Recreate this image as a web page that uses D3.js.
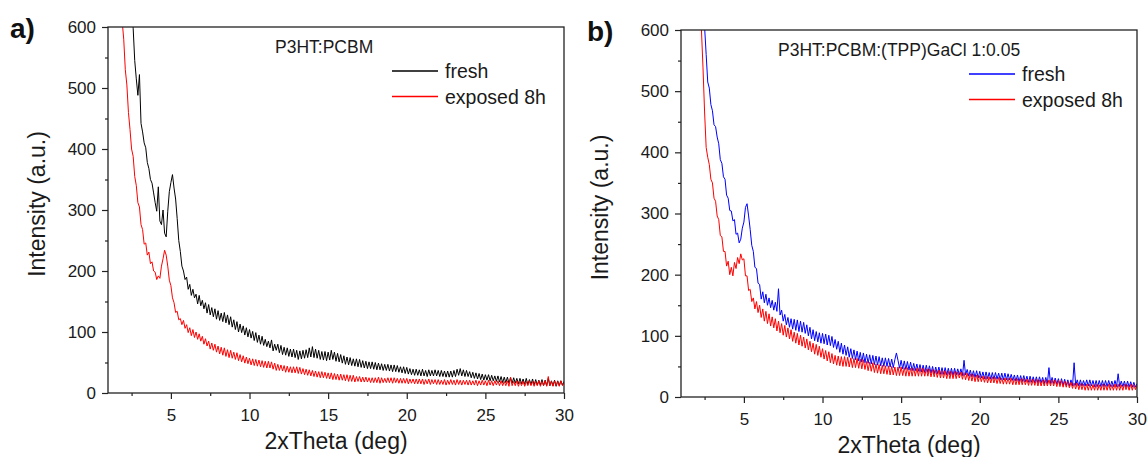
<!DOCTYPE HTML>
<html>
<head>
	<title>XRD P3HT:PCBM</title>
	<meta http-equiv="Content-Type" content="text/html; charset=utf-8">
	<script src="https://d3js.org/d3.v7.min.js"></script>
	<style type="text/css">
		body {
			margin: 0;
			background-color: #ffffff;
		}
		text {
			font-family: "Liberation Sans", Arial, sans-serif;
			fill: #1a1a1a;
		}
		.tick text {
			font-size: 17px;
		}
		.tick line {
			stroke: #222;
			stroke-width: 1.2;
		}
		.frame {
			fill: none;
			stroke: #222;
			stroke-width: 1.3;
		}
		.curve {
			fill: none;
			stroke-width: 1;
			stroke-linejoin: round;
		}
	</style>
</head>
<body>
	<div id="picture"></div>
	<script>
var width  = 1148;
var height = 457;

// sample grid: 2xTheta from 1.8 to 30 deg, 0.1 deg apart (283 points)
var theta = d3.range(0, 283).map(function(i) { return Math.round((1.8 + i * 0.1) * 10) / 10; });

var xTicks      = [5, 10, 15, 20, 25, 30];
var xMinorTicks = [2.5, 7.5, 12.5, 17.5, 22.5, 27.5];
var yTicks      = [0, 100, 200, 300, 400, 500, 600];
var yMinorTicks = [50, 150, 250, 350, 450, 550];

var legendNames = ["fresh", "exposed 8h"];

// a) P3HT:PCBM  (one row = 1 deg, starting 1.8, 2.8, 3.8 ...)
var freshA = [
	960, 890, 870, 830, 770, 735, 710, 640, 598, 545,
	515, 488, 522, 442, 428, 410, 402, 378, 368, 350,
	344, 328, 312, 298, 338, 282, 276, 300, 262, 256,
	298, 330, 345, 358, 336, 318, 286, 250, 232, 208,
	200, 186, 190, 170, 178, 160, 170, 156, 162, 146,
	160, 143, 152, 138, 148, 131, 145, 128, 140, 125,
	138, 121, 135, 119, 131, 117, 132, 115, 128, 112,
	125, 108, 120, 104, 117, 100, 113,  99, 110,  95,
	107,  92, 104,  90, 101,  86,  99,  83,  95,  80,
	 93,  78,  88,  76,  85,  74,  87,  69,  80,  70,
	 80,  66,  78,  63,  75,  62,  74,  60,  72,  59,
	 72,  58,  70,  55,  69,  56,  70,  57,  71,  58,
	 74,  59,  76,  58,  72,  57,  70,  55,  68,  54,
	 68,  53,  67,  54,  70,  55,  67,  52,  65,  51,
	 63,  49,  61,  47,  59,  46,  58,  45,  56,  44,
	 56,  43,  55,  42,  53,  41,  52,  40,  51,  40,
	 51,  39,  50,  38,  49,  38,  48,  37,  47,  37,
	 47,  36,  46,  35,  46,  35,  45,  34,  43,  33,
	 43,  32,  42,  31,  40,  30,  39,  29,  39,  29,
	 38,  28,  39,  28,  37,  27,  38,  28,  37,  28,
	 38,  28,  37,  27,  37,  27,  36,  26,  36,  26,
	 36,  26,  37,  27,  39,  29,  40,  28,  38,  27,
	 37,  27,  35,  25,  34,  24,  33,  23,  32,  22,
	 31,  21,  30,  21,  30,  20,  29,  20,  28,  19,
	 28,  18,  27,  17,  26,  17,  26,  16,  25,  16,
	 25,  16,  24,  15,  24,  15,  23,  14,  24,  14,
	 22,  14,  23,  13,  22,  13,  21,  13,  22,  12,
	 21,  12,  24,  12,  20,  12,  21,  11,  20,  12,
	 20,  13,  19
];
var exposedA = [
	665, 610, 580, 530, 505, 460, 432, 400, 388, 355,
	340, 312, 305, 276, 268, 244, 246, 226, 231, 212,
	215, 200, 198, 186, 192, 188, 208, 220, 234, 226,
	208, 185, 176, 156, 148, 132, 134, 120, 122, 112,
	119, 106, 112,  99, 107,  94, 104,  91, 100,  88,
	 97,  85,  93,  80,  89,  77,  85,  72,  82,  70,
	 80,  67,  77,  64,  75,  62,  74,  60,  71,  58,
	 70,  57,  67,  55,  66,  53,  63,  51,  61,  49,
	 59,  48,  57,  46,  56,  45,  55,  44,  54,  43,
	 53,  42,  52,  41,  52,  41,  51,  39,  49,  37,
	 47,  37,  46,  36,  45,  34,  44,  34,  43,  33,
	 43,  33,  43,  32,  42,  31,  40,  30,  39,  29,
	 38,  28,  37,  27,  36,  26,  35,  25,  35,  25,
	 34,  24,  33,  23,  33,  22,  32,  22,  31,  21,
	 31,  21,  30,  20,  30,  19,  29,  19,  29,  18,
	 27,  19,  27,  18,  26,  18,  26,  18,  25,  17,
	 25,  17,  25,  17,  26,  16,  25,  17,  24,  17,
	 25,  17,  25,  16,  25,  17,  24,  16,  24,  16,
	 24,  16,  24,  15,  23,  16,  23,  15,  23,  15,
	 23,  15,  23,  14,  22,  15,  23,  14,  22,  15,
	 22,  14,  22,  14,  21,  14,  22,  13,  21,  14,
	 22,  14,  21,  13,  22,  14,  21,  13,  21,  14,
	 21,  13,  21,  13,  20,  13,  21,  12,  20,  13,
	 21,  13,  20,  12,  21,  13,  20,  12,  20,  13,
	 20,  12,  20,  12,  19,  12,  20,  11,  26,  12,
	 19,  12,  20,  11,  19,  12,  19,  11,  19,  12,
	 20,  12,  19,  11,  19,  12,  20,  11,  19,  12,
	 20,  11,  27,  12,  19,  11,  20,  12,  19,  11,
	 20,  12,  18
];

// b) P3HT:PCBM:(TPP)GaCl 1:0.05
var freshB = [
	880, 820, 775, 720, 690, 650, 640, 605, 560, 515,
	505, 478, 468, 445, 442, 425, 414, 388, 382, 360,
	356, 330, 325, 305, 304, 288, 290, 266, 268, 252,
	258, 276, 286, 310, 316, 296, 274, 248, 238, 212,
	210, 186, 184, 160, 172, 154, 168, 150, 162, 146,
	158, 142, 155, 140, 177, 134, 142, 124, 135, 118,
	130, 114, 128, 111, 127, 109, 126, 107, 124, 106,
	122, 104, 118, 100, 114,  95, 110,  92, 107,  90,
	105,  88, 104,  87, 103,  85, 101,  84,  99,  81,
	 94,  78,  91,  73,  88,  70,  85,  68,  82,  65,
	 79,  63,  77,  61,  75,  59,  73,  57,  72,  56,
	 70,  55,  69,  54,  68,  53,  67,  52,  66,  51,
	 64,  50,  64,  50,  63,  49,  62,  48,  61,  72,
	 60,  47,  60,  46,  59,  45,  58,  44,  57,  43,
	 55,  43,  54,  42,  53,  41,  52,  40,  52,  40,
	 51,  39,  50,  38,  49,  38,  49,  37,  48,  37,
	 48,  36,  47,  36,  47,  35,  47,  36,  46,  36,
	 46,  35,  60,  36,  45,  34,  44,  33,  43,  32,
	 43,  31,  42,  31,  41,  30,  41,  30,  40,  29,
	 40,  29,  40,  29,  39,  28,  39,  28,  39,  28,
	 38,  28,  37,  27,  36,  26,  36,  25,  35,  25,
	 35,  25,  34,  24,  34,  24,  33,  23,  33,  23,
	 33,  23,  32,  22,  32,  22,  48,  22,  32,  22,
	 31,  21,  30,  20,  30,  19,  29,  19,  28,  18,
	 28,  18,  56,  19,  28,  18,  28,  18,  27,  18,
	 28,  18,  28,  18,  27,  17,  27,  17,  27,  17,
	 27,  17,  27,  17,  27,  17,  26,  17,  27,  17,
	 38,  17,  26,  17,  26,  16,  26,  16,  25,  16,
	 24,  16,  22
];
var exposedB = [
	790, 740, 705, 660, 640, 600, 538, 466, 408, 392,
	380, 356, 350, 325, 320, 296, 290, 264, 262, 238,
	238, 214, 222, 200, 212, 198, 220, 210, 228, 218,
	234, 224, 226, 198, 198, 174, 176, 156, 162, 144,
	156, 138, 150, 130, 144, 124, 140, 120, 136, 116,
	131, 113, 128, 108, 124, 105, 120, 101, 117,  98,
	113,  95, 110,  91, 106,  88, 104,  85, 101,  83,
	 98,  80,  95,  77,  91,  74,  88,  70,  86,  68,
	 83,  65,  79,  62,  76,  59,  74,  56,  71,  54,
	 68,  52,  67,  51,  66,  50,  66,  50,  65,  49,
	 64,  48,  63,  48,  63,  47,  62,  46,  61,  45,
	 58,  43,  57,  42,  56,  40,  54,  39,  53,  38,
	 52,  38,  51,  37,  51,  36,  50,  36,  49,  35,
	 49,  35,  49,  35,  48,  34,  48,  34,  47,  34,
	 47,  34,  47,  34,  48,  34,  47,  34,  46,  34,
	 46,  33,  45,  33,  44,  32,  44,  31,  43,  31,
	 43,  30,  42,  30,  42,  30,  42,  30,  41,  31,
	 41,  29,  40,  28,  39,  27,  38,  26,  37,  25,
	 36,  25,  35,  25,  34,  24,  34,  23,  33,  23,
	 33,  23,  32,  22,  32,  22,  31,  21,  31,  21,
	 31,  21,  31,  20,  30,  20,  30,  20,  30,  20,
	 30,  20,  29,  19,  29,  19,  29,  19,  29,  18,
	 28,  18,  28,  18,  28,  18,  28,  18,  28,  18,
	 28,  17,  27,  17,  27,  16,  26,  16,  25,  15,
	 24,  14,  23,  13,  23,  12,  22,  12,  21,  11,
	 21,  11,  21,  11,  20,  11,  21,  11,  20,  11,
	 21,  11,  20,  11,  21,  11,  20,  11,  21,  11,
	 21,  11,  20,  11,  21,  12,  20,  11,  21,  11,
	 20,  12,  19
];

var svg = d3.select("#picture")
	.append("svg")
		.attr("width",  width)
		.attr("height", height);

function DrawPanel(p) {
	var x = d3.scaleLinear().domain([1, 30]).range([p.left, p.right]);
	var y = d3.scaleLinear().domain([0, 600]).range([p.bottom, p.top]);

	var g = svg.append("g");

	g.append("clipPath")
		.attr("id", "clip" + p.id)
		.append("rect")
			.attr("x", p.left)
			.attr("y", p.top)
			.attr("width",  p.right - p.left)
			.attr("height", p.bottom - p.top);

	// curves, fresh first then exposed on top
	var line = d3.line()
		.x(function(d, i) { return x(theta[i]); })
		.y(function(d) { return y(d); });

	p.series.forEach(function(s) {
		g.append("path")
			.datum(s.values)
			.attr("class", "curve")
			.attr("clip-path", "url(#clip" + p.id + ")")
			.attr("stroke", s.color)
			.attr("d", line);
	});

	// axes: major + minor ticks
	var xAxis = d3.axisBottom(x).tickValues(xTicks).tickSize(6).tickSizeOuter(0).tickPadding(10);
	var yAxis = d3.axisLeft(y).tickValues(yTicks).tickSize(6).tickSizeOuter(0).tickPadding(6);

	g.append("g").attr("transform", "translate(0," + p.bottom + ")").call(xAxis);
	g.append("g").attr("transform", "translate(" + p.left + ",0)").call(yAxis);
	g.append("g").attr("transform", "translate(0," + p.bottom + ")")
		.call(d3.axisBottom(x).tickValues(xMinorTicks).tickSize(3).tickSizeOuter(0).tickFormat(""));
	g.append("g").attr("transform", "translate(" + p.left + ",0)")
		.call(d3.axisLeft(y).tickValues(yMinorTicks).tickSize(3).tickSizeOuter(0).tickFormat(""));
	g.selectAll(".domain").remove();
	g.selectAll(".tick text").attr("font-family", null).attr("font-size", null);

	g.append("rect")
		.attr("class", "frame")
		.attr("x", p.left)
		.attr("y", p.top)
		.attr("width",  p.right - p.left)
		.attr("height", p.bottom - p.top);

	// titles
	g.append("text")
		.attr("x", (p.left + p.right) / 2)
		.attr("y", p.bottom + 56)
		.attr("text-anchor", "middle")
		.style("font-size", "23px")
		.text("2xTheta (deg)");

	g.append("text")
		.attr("transform", "translate(" + p.ytitleX + "," + ((p.top + p.bottom) / 2 - 6) + ") rotate(-90)")
		.attr("text-anchor", "middle")
		.style("font-size", "23px")
		.text("Intensity (a.u.)");

	g.append("text")
		.attr("x", p.labelX)
		.attr("y", p.top + 11)
		.style("font-size", "28px")
		.style("font-weight", "bold")
		.style("fill", "#111")
		.text(p.label);

	g.append("text")
		.attr("x", p.noteX)
		.attr("y", p.top + 26)
		.style("font-size", "17.5px")
		.text(p.note);

	// legend
	p.series.forEach(function(s, i) {
		var ly = p.top + 44 + i * 25.5;
		g.append("line")
			.attr("x1", p.legendX)
			.attr("x2", p.legendX + 46)
			.attr("y1", ly)
			.attr("y2", ly)
			.attr("stroke", s.color)
			.attr("stroke-width", 1.3);
		g.append("text")
			.attr("x", p.legendX + 53)
			.attr("y", ly + 7)
			.style("font-size", "19.5px")
			.text(legendNames[i]);
	});
}

DrawPanel({
	id: "a", left: 108, right: 564, top: 27, bottom: 393,
	ytitleX: 45, labelX: 10, noteX: 275, legendX: 392,
	label: "a)", note: "P3HT:PCBM",
	series: [
		{ values: freshA,   color: "#000000" },
		{ values: exposedA, color: "#ff0000" }
	]
});

DrawPanel({
	id: "b", left: 681, right: 1137, top: 30, bottom: 397,
	ytitleX: 608, labelX: 587, noteX: 778, legendX: 969,
	label: "b)", note: "P3HT:PCBM:(TPP)GaCl 1:0.05",
	series: [
		{ values: freshB,   color: "#0000ff" },
		{ values: exposedB, color: "#ff0000" }
	]
});
	</script>
</body>
</html>
